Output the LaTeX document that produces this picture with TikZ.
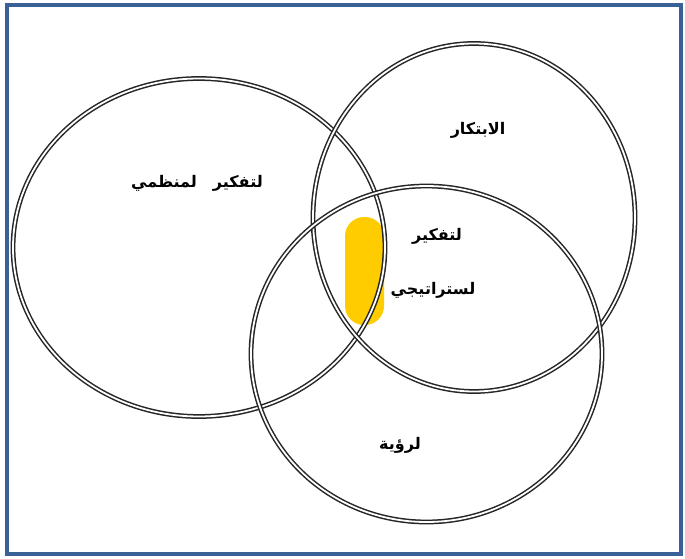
\documentclass[tikz,border=0pt]{standalone}
\usepackage{fontspec}
\newfontfamily\arabicfont[Script=Arabic]{DejaVu Sans}
\TeXXeTstate=1
\definecolor{framblue}{HTML}{3A6197}
\definecolor{goldy}{HTML}{FFCC00}
\begin{document}
\begin{tikzpicture}[x=1pt,y=-1pt,
  ring/.style={draw=black!85,double=white,double distance=1.8pt,line width=1.5pt},
  lbl/.style={font=\arabicfont\bfseries\fontsize{16}{18}\selectfont,inner sep=1pt}]
\useasboundingbox (0,0) rectangle (685,559);
\fill[white] (0,0) rectangle (685,559);
\draw[framblue,line width=4.5pt] (7,5) rectangle (681,554);
\node[fill=goldy,rounded corners=19pt,minimum width=39pt,minimum height=108pt,inner sep=0pt] (hl) at (364.5,271) {};
\draw[ring] (199,247.5) ellipse [x radius=186,y radius=169] coordinate (c1);
\draw[ring] (474,217.5) ellipse [x radius=161,y radius=174] coordinate (c2);
\draw[ring] (426.5,354) ellipse [x radius=175.5,y radius=168] coordinate (c3);
\node[lbl] (t1) at (197,183) {\beginR لتفكير\quad لمنظمي\endR};
\node[lbl] (t2) at (478,130) {\beginR الابتكار\endR};
\node[lbl] (t3) at (437,236) {\beginR لتفكير\endR};
\node[lbl] (t4) at (433,290) {\beginR لستراتيجي\endR};
\node[lbl] (t5) at (400,445) {\beginR لرؤية\endR};
\end{tikzpicture}
\end{document}
